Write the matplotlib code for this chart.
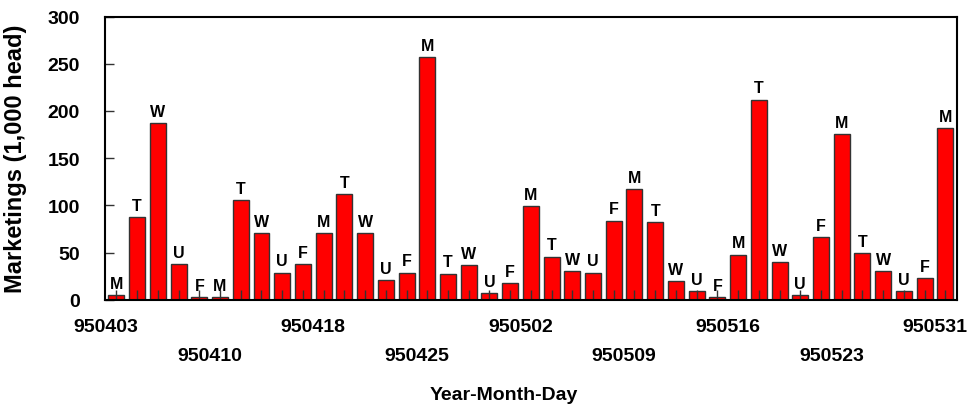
import numpy as np
import matplotlib
matplotlib.use('Agg')
import matplotlib.pyplot as plt

plt.rcParams['font.family'] = ['Liberation Sans', 'DejaVu Sans']
plt.rcParams['font.weight'] = 'bold'

# daily marketings, 1,000 head
values = [5, 88, 187, 38, 3, 3, 106, 71, 29, 38,
          71, 112, 71, 21, 29, 257, 28, 37, 7, 18,
          99, 46, 31, 29, 84, 117, 82, 20, 9, 3,
          48, 212, 40, 5, 67, 176, 50, 31, 9, 23, 182]
days = ['M', 'T', 'W', 'U', 'F'] * 8 + ['M']

row1_labels = ['950403', '950418', '950502', '950516', '950531']
row1_pos = [-0.5, 9.5, 19.5, 29.5, 39.5]
row2_labels = ['950410', '950425', '950509', '950523']
row2_pos = [4.5, 14.5, 24.5, 34.5]

x = np.arange(len(values))

fig = plt.figure(figsize=(9.69, 4.10), dpi=100)
ax = fig.add_axes([0.1084, 0.2659, 0.8789, 0.6914])

ax.bar(x, values, width=0.77, color='#ff0000', edgecolor='#333333', linewidth=1)

for xi, v, d in zip(x, values, days):
    ax.annotate(d, (xi, v), xytext=(0, 3), textcoords='offset points',
                ha='center', va='bottom', fontsize=11.5, fontweight='bold')

ax.set_xlim(-0.55, len(values) - 0.45)
ax.set_ylim(0, 300)
ax.set_yticks([0, 50, 100, 150, 200, 250, 300])

# small inward ticks at each bar
ax.set_xticks(x)
ax.set_xticklabels([''] * len(x))
ax.tick_params(axis='x', which='major', direction='in', length=7, width=1, color='#333333')

# date labels, two staggered rows
ax.set_xticks(row1_pos, minor=True)
ax.set_xticklabels(row1_labels, minor=True)
ax.tick_params(axis='x', which='minor', length=0, pad=13, labelsize=14)

sec = ax.secondary_xaxis('bottom')
sec.set_xticks(row2_pos)
sec.set_xticklabels(row2_labels)
sec.tick_params(axis='x', length=0, pad=34, labelsize=14)
sec.spines['bottom'].set_visible(False)

ax.tick_params(axis='y', direction='in', length=6.5, width=1, color='#333333', pad=18, labelsize=14)

for s in ax.spines.values():
    s.set_linewidth(1.5)

ax.set_ylabel('Marketings (1,000 head)', fontsize=17, fontweight='bold')
ax.yaxis.set_label_coords(-0.092, 0.5)
ax.set_xlabel('Year-Month-Day', fontsize=14, fontweight='bold')
ax.xaxis.set_label_coords(0.4685, -0.305)

fig.savefig('out.png', dpi=100)
